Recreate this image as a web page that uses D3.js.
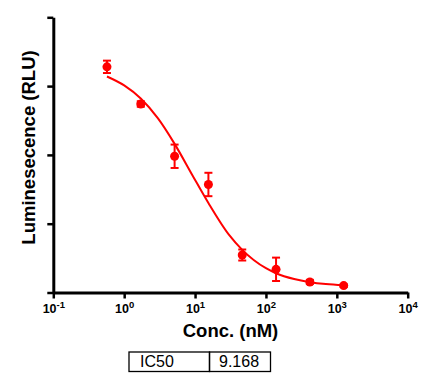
<!DOCTYPE html>
<html><head><meta charset="utf-8">
<script src="https://cdn.jsdelivr.net/npm/d3@7"></script>
<style>
html,body{margin:0;padding:0;background:#fff;}
svg{display:block;font-family:"Liberation Sans",Arial,sans-serif;}
</style></head>
<body><div id="chart"></div>
<script>
// Data
const conc = [0.5716, 1.715, 5.144, 15.43, 46.30, 138.9, 416.7, 1250];
const signal = [3.28, 2.74, 1.98, 1.57, 0.545, 0.337, 0.153, 0.10];
const sem = [0.09, 0.04, 0.17, 0.17, 0.08, 0.17, 0.03, 0.02];
// Fitted curve
const curveConc = [0.5716, 1, 1.715, 3, 5.144, 9.168, 15.43, 30, 46.30, 100, 138.9, 250, 416.7, 700, 1250];
const curveSignal = [3.14, 3.01, 2.82, 2.53, 2.16, 1.705, 1.30, 0.84, 0.62, 0.353, 0.28, 0.195, 0.15, 0.122, 0.104];
const xTickExps = [-1, 0, 1, 2, 3, 4];
const yTicks = [0, 1, 2, 3, 4];
const tableCells = ["IC50", "9.168"];

const W = 422, H = 383;
const red = "#ff0000";
const svg = d3.select("#chart").append("svg").attr("width", W).attr("height", H);

const x = d3.scaleLog().domain([0.1, 1e4]).range([53.3, 407.7]);
const y = d3.scaleLinear().domain([0, 4]).range([292.5, 17.3]);

// Y axis
const yAx = svg.append("g").attr("transform", `translate(${x(0.1)},0)`)
  .call(d3.axisLeft(y).tickValues(yTicks).tickSize(6).tickSizeOuter(0).tickFormat(""));
yAx.select(".domain").attr("stroke", "#000").attr("stroke-width", 3);
yAx.selectAll(".tick line").attr("stroke", "#000").attr("stroke-width", 2.5);

// X axis
const xAx = svg.append("g").attr("transform", `translate(0,${y(0)})`)
  .call(d3.axisBottom(x).tickValues(xTickExps.map(e => Math.pow(10, e))).tickSize(6).tickSizeOuter(0).tickFormat(""));
xAx.select(".domain").attr("stroke", "#000").attr("stroke-width", 3);
xAx.selectAll(".tick line").attr("stroke", "#000").attr("stroke-width", 2.5);

// X tick labels 10^n
xAx.selectAll(".tick").each(function(d, i) {
  const t = d3.select(this).append("text")
    .attr("y", 20.5).attr("text-anchor", "middle")
    .attr("fill", "#000").attr("font-weight", "bold").attr("font-size", 12.5);
  t.append("tspan").text("10");
  t.append("tspan").attr("dy", -5).attr("font-size", 9.5).text(String(xTickExps[i]).replace("-", "\u2011"));
});

// Axis titles
svg.append("text").attr("x", 230.5).attr("y", 337)
  .attr("text-anchor", "middle").attr("font-weight", "bold").attr("font-size", 18.5)
  .attr("fill", "#000").text("Conc. (nM)");
svg.append("text").attr("transform", "translate(34.5,147.5) rotate(-90)")
  .attr("text-anchor", "middle").attr("font-weight", "bold").attr("font-size", 18.5)
  .attr("fill", "#000").text("Luminesecence (RLU)");

// Fit curve
const line = d3.line().x(d => x(d[0])).y(d => y(d[1])).curve(d3.curveMonotoneX);
svg.append("path").datum(curveConc.map((c, i) => [c, curveSignal[i]]))
  .attr("d", line).attr("fill", "none").attr("stroke", red).attr("stroke-width", 2);

// Error bars
const pts = conc.map((c, i) => ({c, v: signal[i], e: sem[i]}));
const eb = svg.append("g").attr("stroke", red).attr("stroke-width", 2).attr("fill", "none");
pts.forEach(p => {
  const cx = x(p.c), y1 = y(p.v + p.e), y2 = y(p.v - p.e);
  eb.append("line").attr("x1", cx).attr("x2", cx).attr("y1", y1).attr("y2", y2);
  eb.append("line").attr("x1", cx - 4).attr("x2", cx + 4).attr("y1", y1).attr("y2", y1);
  eb.append("line").attr("x1", cx - 4).attr("x2", cx + 4).attr("y1", y2).attr("y2", y2);
});
svg.append("g").selectAll("circle").data(pts).join("circle")
  .attr("cx", d => x(d.c)).attr("cy", d => y(d.v)).attr("r", 4.5).attr("fill", red);

// IC50 table
const tb = svg.append("g");
const cellX = [129, 209.5], cellW = [80.5, 61];
tableCells.forEach((t, i) => {
  tb.append("rect").attr("x", cellX[i]).attr("y", 352).attr("width", cellW[i]).attr("height", 19.5)
    .attr("fill", "none").attr("stroke", "#000").attr("stroke-width", 1.3);
  tb.append("text").attr("x", cellX[i] + (i === 0 ? 11 : 9.5)).attr("y", 367)
    .attr("font-size", 16).attr("fill", "#000").text(t);
});
</script></body></html>
